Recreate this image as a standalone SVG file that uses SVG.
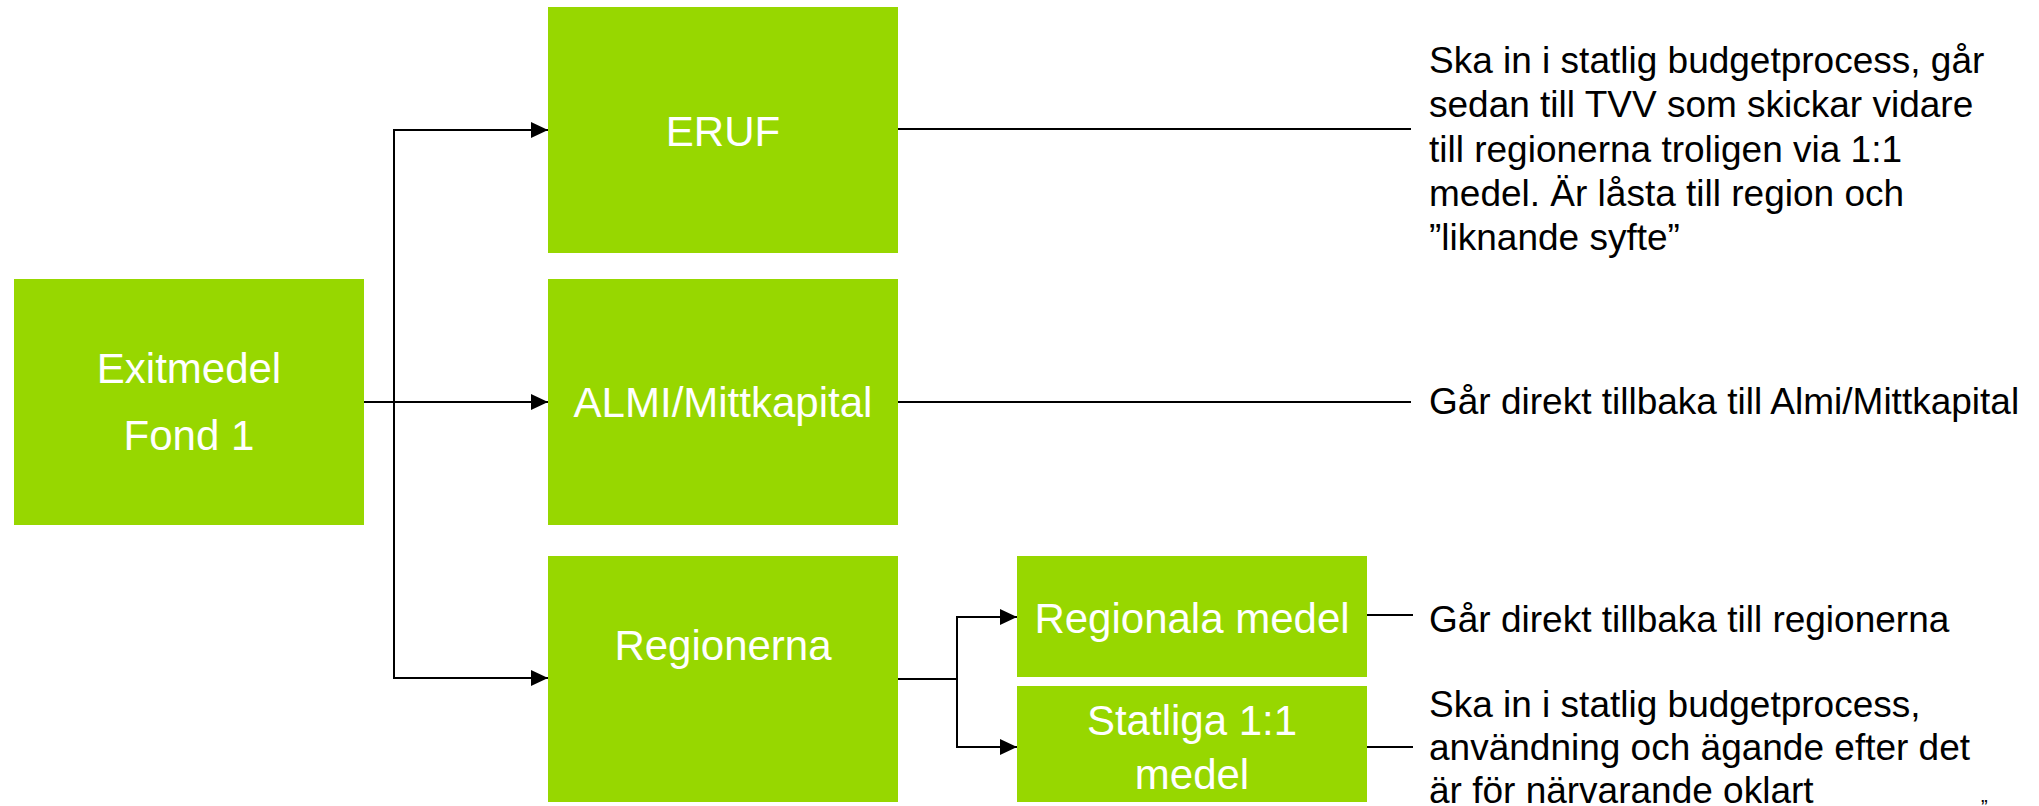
<svg xmlns="http://www.w3.org/2000/svg" width="2039" height="806" viewBox="0 0 2039 806">
<style>
.box{fill:#97D700}
.bt{font-family:"Liberation Sans",Arial,sans-serif;font-size:42px;fill:#ffffff;text-anchor:middle}
.nt{font-family:"Liberation Sans",Arial,sans-serif;font-size:37px;fill:#000000}
.c{fill:none;stroke:#000000;stroke-width:2}
</style>
<defs>
<marker id="ah" markerUnits="userSpaceOnUse" markerWidth="17" markerHeight="16" refX="17" refY="8" orient="auto">
<path d="M0,0 L17,8 L0,16 Z" fill="#000000"/>
</marker>
</defs>
<rect width="2039" height="806" fill="#ffffff"/>
<g id="connectors">
<path class="c" d="M364,402 H548" marker-end="url(#ah)"/>
<path class="c" d="M394,402 V130 H548" marker-end="url(#ah)"/>
<path class="c" d="M394,402 V678 H548" marker-end="url(#ah)"/>
<path class="c" d="M898,679 H957 V617 H1017" marker-end="url(#ah)"/>
<path class="c" d="M957,679 V747 H1017" marker-end="url(#ah)"/>
<path class="c" d="M898,129 H1411"/>
<path class="c" d="M898,402 H1411"/>
<path class="c" d="M1367,615 H1413"/>
<path class="c" d="M1367,747 H1413"/>
</g>
<g id="exitmedel">
<rect class="box" x="14" y="279" width="350" height="246"/>
<text class="bt" x="189" y="383">Exitmedel</text>
<text class="bt" x="189" y="450">Fond 1</text>
</g>
<g id="eruf">
<rect class="box" x="548" y="7" width="350" height="246"/>
<text class="bt" x="723" y="146">ERUF</text>
</g>
<g id="almi">
<rect class="box" x="548" y="279" width="350" height="246"/>
<text class="bt" x="723" y="417">ALMI/Mittkapital</text>
</g>
<g id="regionerna">
<rect class="box" x="548" y="556" width="350" height="246"/>
<text class="bt" x="723" y="660">Regionerna</text>
</g>
<g id="regionala">
<rect class="box" x="1017" y="556" width="350" height="121"/>
<text class="bt" x="1192" y="633">Regionala medel</text>
</g>
<g id="statliga">
<rect class="box" x="1017" y="686" width="350" height="116"/>
<text class="bt" x="1192" y="735">Statliga 1:1</text>
<text class="bt" x="1192" y="789">medel</text>
</g>
<g id="note-eruf">
<text class="nt" x="1429" y="73">Ska in i statlig budgetprocess, går</text>
<text class="nt" x="1429" y="117">sedan till TVV som skickar vidare</text>
<text class="nt" x="1429" y="162">till regionerna troligen via 1:1</text>
<text class="nt" x="1429" y="206">medel. Är låsta till region och</text>
<text class="nt" x="1429" y="250">”liknande syfte”</text>
</g>
<g id="note-almi">
<text class="nt" x="1429" y="414">Går direkt tillbaka till Almi/Mittkapital</text>
</g>
<g id="note-regionala">
<text class="nt" x="1429" y="632">Går direkt tillbaka till regionerna</text>
</g>
<g id="note-statliga">
<text class="nt" x="1429" y="717">Ska in i statlig budgetprocess,</text>
<text class="nt" x="1429" y="760">användning och ägande efter det</text>
<text class="nt" x="1429" y="803">är för närvarande oklart</text>
</g>
<text x="1981" y="814" font-family="'Liberation Sans',Arial,sans-serif" font-size="20" fill="#000000">”</text>
</svg>
